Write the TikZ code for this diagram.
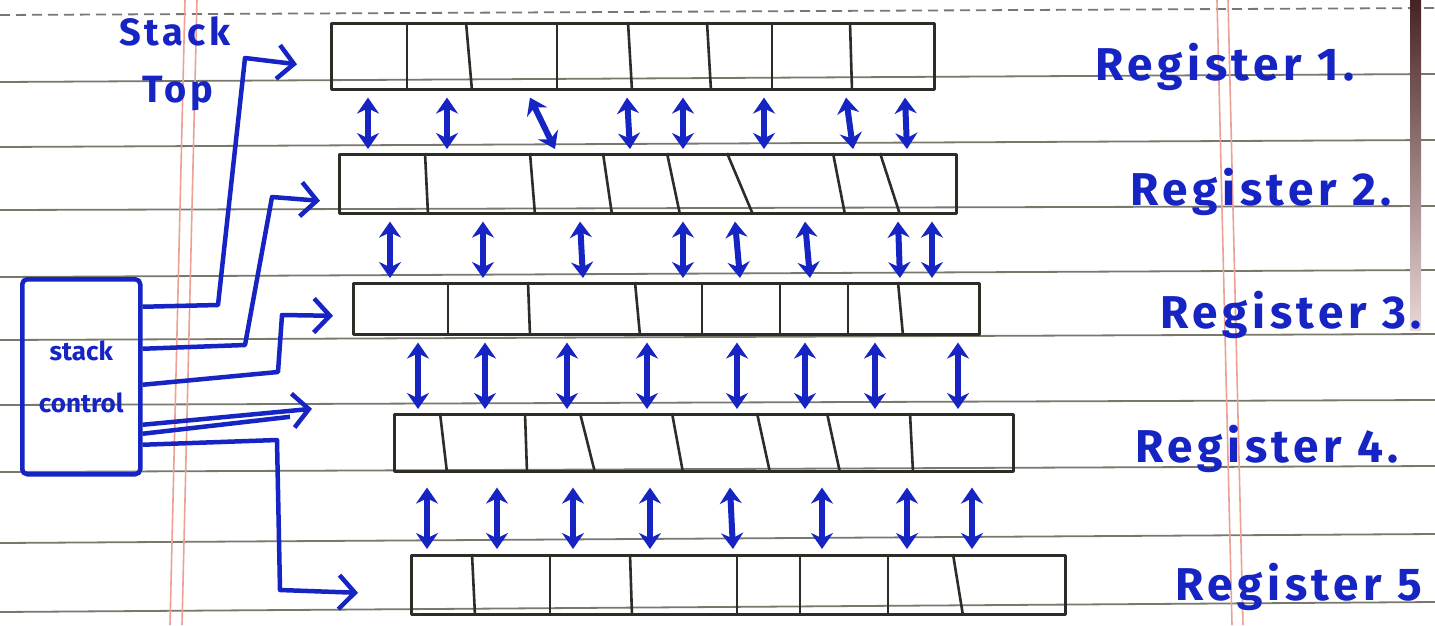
\documentclass[tikz,border=0pt]{standalone}
\usepackage{fontspec}
\setmainfont{Fira Sans}
\usetikzlibrary{arrows.meta,calc}
\definecolor{penblue}{RGB}{22,36,196}
\definecolor{pencil}{RGB}{45,45,40}
\definecolor{ruled}{RGB}{120,120,108}
\definecolor{marginred}{RGB}{236,160,150}
\begin{document}
\begin{tikzpicture}[x=1pt,y=-1pt,line join=round,
  reg/.style={draw=pencil,line width=2.6pt,inner sep=0pt,anchor=north west},
  divider/.style={draw=pencil,line width=2.6pt},
  dbl/.style={draw=penblue,line width=6pt,{Stealth[length=16pt,width=22pt]}-{Stealth[length=16pt,width=22pt]}},
  conn/.style={draw=penblue,line width=4.5pt,-{Straight Barb[length=16pt,width=34pt]}},
  wire/.style={draw=penblue,line width=4.5pt},
  lbl/.style={text=penblue,font=\fontsize{46}{56}\selectfont\bfseries\addfontfeatures{LetterSpace=10},anchor=base west,inner sep=0pt},
  toplbl/.style={text=penblue,font=\fontsize{38}{46}\selectfont\bfseries\addfontfeatures{LetterSpace=10},anchor=base,inner sep=0pt},
  ruledline/.style={draw=ruled,line width=1.8pt},
  marginline/.style={draw=marginred,line width=1.6pt}]
\useasboundingbox (0,0) rectangle (1435,625);
\fill[white] (0,0) rectangle (1435,625);
% paper
\draw[ruledline,dash pattern=on 10pt off 6pt] (0,15) -- (1435,8);
\foreach \l/\r in {82/74,147/140,210/206,277/270,340/334,405/400,472/466,543/534,612/602}
  \draw[ruledline] (0,\l) -- (1435,\r);
\draw[marginline] (185,0) -- (170,625);
\draw[marginline] (197,0) -- (182,625);
\draw[marginline] (1217,0) -- (1232,625);
\draw[marginline] (1228,0) -- (1243,625);
\shade[top color={rgb,255:red,70;green,35;blue,35},bottom color={rgb,255:red,235;green,215;blue,215}] (1410,0) rectangle (1421,330);
% registers
\node[reg,minimum width=603pt,minimum height=66pt] (reg1) at (330,22) {};
\node[reg,minimum width=617pt,minimum height=59pt] (reg2) at (338,153) {};
\node[reg,minimum width=626pt,minimum height=51pt] (reg3) at (352,282) {};
\node[reg,minimum width=619pt,minimum height=57pt] (reg4) at (393,413) {};
\node[reg,minimum width=654pt,minimum height=59pt] (reg5) at (410,554) {};
\foreach \r/\list in {reg1/{77/77,136/142,227/227,298/302,377/381,442/442,520/522},
                      reg2/{87/90,192/197,265/274,329/342,389/415,495/507,542/562},
                      reg3/{96/96,176/178,283/288,350/350,428/428,496/496,546/551},
                      reg4/{47/54,132/134,187/202,279/290,364/377,434/447,517/520},
                      reg5/{62/65,140/140,220/222,327/327,390/390,478/478,543/553}}
  \foreach \a/\b in \list
    \draw[divider] ([xshift=\a pt]\r.north west) -- ([xshift=\b pt]\r.south west);
% bidirectional transfers
\foreach \a/\b in {38/30,117/109,200/217,297/292,353/345,434/426,516/515,575/569}
  \draw[dbl] ([xshift=\a pt,yshift=-7pt]reg1.south west) -- ([xshift=\b pt,yshift=4pt]reg2.north west);
\foreach \a/\b in {52/38,145/131,242/231,345/331,397/388,467/458,560/548,594/580}
  \draw[dbl] ([xshift=\a pt,yshift=-7pt]reg2.south west) -- ([xshift=\b pt,yshift=4pt]reg3.north west);
\foreach \a/\b in {66/25,133/92,215/174,295/254,385/344,453/412,523/482,606/565}
  \draw[dbl] ([xshift=\a pt,yshift=-7pt]reg3.south west) -- ([xshift=\b pt,yshift=4pt]reg4.north west);
\foreach \a/\b in {34/17,104/87,180/163,257/240,337/323,429/412,514/497,579/562}
  \draw[dbl] ([xshift=\a pt,yshift=-15pt]reg4.south west) -- ([xshift=\b pt,yshift=5pt]reg5.north west);
% stack control
\node[draw=penblue,line width=4.5pt,rounded corners=5pt,minimum width=118pt,minimum height=195pt,
      anchor=north west,text=penblue,font=\fontsize{26}{30}\selectfont\bfseries,align=center] (ctrl) at (20,277)
      {stack\\[22pt]control};
\draw[conn] ([yshift=70pt]ctrl.east) -- (218,305) -- (245,58) -- ([xshift=-33pt,yshift=-8pt]reg1.west);
\draw[conn] ([yshift=28pt]ctrl.east) -- (245,345) -- (272,197) -- ([xshift=-18pt,yshift=-17pt]reg2.west);
\draw[conn] ([yshift=-8pt]ctrl.east) -- (278,372) -- (282,315) -- ([xshift=-19pt,yshift=-7pt]reg3.west);
\coordinate (tip4) at ([xshift=-81pt,yshift=34pt]reg4.west);
\draw[conn] ([yshift=-48pt]ctrl.east) -- (tip4);
\draw[wire] ([yshift=-57pt]ctrl.east) -- ($(tip4)+(-22,8)$);
\draw[conn] ([yshift=-68pt]ctrl.east) -- (277,440) -- (280,590) -- ([xshift=-52pt,yshift=-8pt]reg5.west);
% labels
\node[toplbl] (stk) at (175,45) {Stack};
\node[toplbl] (top) at (178,102) {Top};
\node[lbl] (l1) at (1095,80) {Register 1.};
\node[lbl] (l2) at (1130,205) {Register 2.};
\node[lbl] (l3) at (1160,328) {Register 3.};
\node[lbl] (l4) at (1135,462) {Register 4.};
\node[lbl] (l5) at (1175,600) {Register 5};
\end{tikzpicture}
\end{document}
